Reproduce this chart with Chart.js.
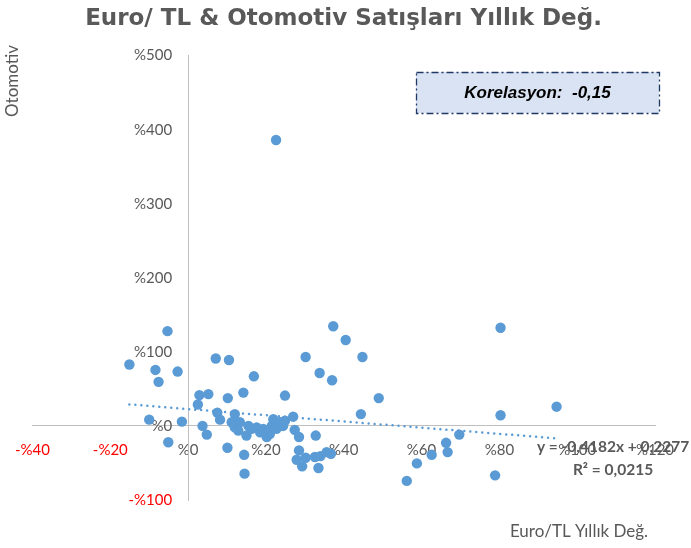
<!DOCTYPE html>
<html>
<head>
<meta charset="utf-8">
<script src="https://cdn.jsdelivr.net/npm/chart.js@4.4.1/dist/chart.umd.min.js"></script>
<style>
  html, body { margin: 0; padding: 0; background: #ffffff; }
  canvas { display: block; }
</style>
</head>
<body>
<canvas id="chart" width="691" height="548"></canvas>
<script>
// Annual change of Euro/TL (x, %) against annual change of auto sales (y, %)
const euroTlChange = [
  -15.1, -5.3, -8.4, -2.7, -7.6, -10, -1.6, -5.1, 7.1, 10.5,
  2.9, 5.2, 2.5, 10.2, 14.2, 16.9, 24.9, 30.2, 33.8, 37,
  37.3, 40.5, 7.5, 8.2, 3.7, 4.8, 10.1, 14.4, 14.5, 12,
  27, 27.4, 28.5, 32.8, 28.5, 27.9, 29.3, 30.2, 32.6, 33.5,
  34, 35.6, 36.7, 44.8, 49, 44.4, 80.3, 94.7, 80.3, 69.7,
  66.3, 66.7, 62.6, 58.8, 56.2, 78.9, 22.6, 11.2, 12, 12.9,
  13.3, 15, 15.5, 16.3, 17.6, 18.5, 19.3, 20.2, 21, 21.5,
  21.9, 22.7, 23.6, 24.4, 24.9
];
const autoSalesChange = [
  83, 128, 75.6, 73.4, 59.5, 8.5, 5.8, -22, 91, 89,
  41.6, 43, 29, 37.6, 45, 67, 41, 93, 71.5, 61.7,
  134.6, 116, 18, 8.5, 0, -11.7, -29.5, -39, -64.4, 16,
  12.5, -5.4, -15, -13, -33, -45.6, -54.6, -43, -42, -56.8,
  -40.7, -35.3, -37.6, 93, 37.6, 16, 132.5, 26, 14.4, -11.7,
  -22.8, -35.3, -39, -50.6, -74.2, -66.7, 386, 5, -2, -6.3,
  5, -13, 0, -4, -2, -8.5, -4, -15, -11, 0,
  9, -4, 5, 0, 7
];

// Linear trend (fractions) and statistics
const trendSlope = -0.4182;
const trendIntercept = 0.2277;
const trendR2 = 0.0215;
const correlation = -0.15;

// Axis ticks (%)
const xTicks = [-40, -20, 0, 20, 40, 60, 80, 100, 120];
const yTicks = [-100, 0, 100, 200, 300, 400, 500];

const chartTitle = 'Euro/ TL & Otomotiv Satışları Yıllık Değ.';
const xAxisTitle = 'Euro/TL Yıllık Değ.';
const yAxisTitle = 'Otomotiv';

const BLUE = '#5B9BD5';
const TEXT = '#595959';

const fmtNum = (v, d) => v.toFixed(d).replace('.', ',');
const fmtPct = v => (v < 0 ? '-%' + Math.abs(v) : '%' + v);

const points = euroTlChange.map((x, i) => ({ x: x, y: autoSalesChange[i] }));
const xMin = Math.min(...euroTlChange);
const xMax = Math.max(...euroTlChange);
const trendAt = x => trendSlope * x + trendIntercept * 100;
const trendPoints = [{ x: xMin, y: trendAt(xMin) }, { x: xMax, y: trendAt(xMax) }];

const equationText = 'y = ' + (trendSlope < 0 ? '-' : '') + fmtNum(Math.abs(trendSlope), 4) +
  'x + ' + fmtNum(trendIntercept, 4);
const r2Text = 'R² = ' + fmtNum(trendR2, 4);
const corrText = 'Korelasyon:  ' + fmtNum(correlation, 2);

// Linear scale that keeps a gap between its labels and a crossing axis line
class CrossLinearScale extends Chart.LinearScale {
  _computeLabelItems(chartArea) {
    const items = super._computeLabelItems(chartArea);
    const gap = this.options.ticks.padding || 0;
    items.forEach(it => {
      const t = it.options.translation;
      it.options.translation = [t[0] - gap, t[1]];
    });
    return items;
  }
}
CrossLinearScale.id = 'crossLinear';
Chart.register(CrossLinearScale);

// Text, correlation box and axis titles drawn on top of the plot
const overlay = {
  id: 'overlay',
  afterDraw(chart) {
    const ctx = chart.ctx;
    ctx.save();

    // correlation box
    const bx = 416, by = 72, bw = 243, bh = 41;
    ctx.fillStyle = '#DAE3F3';
    ctx.fillRect(bx, by, bw, bh);
    ctx.strokeStyle = '#203864';
    ctx.lineWidth = 1.3;
    ctx.setLineDash([7, 3, 2, 3]);
    ctx.strokeRect(bx + 0.5, by + 0.5, bw, bh);
    ctx.setLineDash([]);
    ctx.fillStyle = '#000000';
    ctx.font = 'italic bold 17px "Liberation Sans", Arial, sans-serif';
    ctx.textAlign = 'center';
    ctx.textBaseline = 'middle';
    ctx.fillText(corrText, bx + bw / 2, by + bh / 2 + 1);

    // trend equation
    ctx.fillStyle = TEXT;
    ctx.font = 'bold 15.5px Lato, sans-serif';
    ctx.fillText(equationText, 613, 447);
    ctx.fillText(r2Text, 613, 470);

    // axis titles
    ctx.font = '17px Lato, sans-serif';
    ctx.fillText(xAxisTitle, 579, 532);
    ctx.translate(13, 81);
    ctx.rotate(-Math.PI / 2);
    ctx.font = '17px Lato, sans-serif';
    ctx.fillText(yAxisTitle, 0, 0);

    ctx.restore();
  }
};

new Chart(document.getElementById('chart'), {
  type: 'scatter',
  data: {
    datasets: [
      {
        label: 'Otomotiv',
        data: points,
        pointRadius: 5.2,
        pointHoverRadius: 5.2,
        pointBackgroundColor: BLUE,
        pointBorderWidth: 0,
        order: 1
      },
      {
        label: 'Trend',
        data: trendPoints,
        showLine: true,
        pointRadius: 0,
        borderColor: BLUE,
        borderWidth: 2.5,
        borderDash: [0, 6],
        borderCapStyle: 'round',
        order: 0
      }
    ]
  },
  options: {
    responsive: false,
    animation: false,
    events: [],
    layout: { padding: { left: 32, right: 36, top: 0, bottom: 48 } },
    plugins: {
      legend: { display: false },
      tooltip: { enabled: false },
      title: {
        display: true,
        text: chartTitle,
        color: TEXT,
        font: { family: 'DejaVu Sans', size: 23, weight: 'bold' },
        padding: { top: 5, bottom: 23 }
      }
    },
    scales: {
      x: {
        type: 'linear',
        position: { y: 0 },
        min: xTicks[0],
        max: xTicks[xTicks.length - 1],
        afterBuildTicks: s => { s.ticks = xTicks.map(v => ({ value: v })); },
        grid: { display: false, drawTicks: false },
        border: { display: true, color: '#BFBFBF', width: 1 },
        ticks: {
          autoSkip: false,
          maxRotation: 0,
          padding: 15,
          font: { family: 'Lato', size: 15 },
          color: c => (c.tick && c.tick.value < 0 ? '#FF0000' : TEXT),
          callback: v => fmtPct(v)
        }
      },
      y: {
        type: 'crossLinear',
        position: { x: 0 },
        min: yTicks[0],
        max: yTicks[yTicks.length - 1],
        afterBuildTicks: s => { s.ticks = yTicks.map(v => ({ value: v })); },
        grid: { display: false, drawTicks: false },
        border: { display: true, color: '#BFBFBF', width: 1 },
        ticks: {
          autoSkip: false,
          padding: 16,
          font: { family: 'Lato', size: 15 },
          color: c => (c.tick && c.tick.value < 0 ? '#FF0000' : TEXT),
          callback: v => fmtPct(v)
        }
      }
    }
  },
  plugins: [overlay]
});
</script>
</body>
</html>
